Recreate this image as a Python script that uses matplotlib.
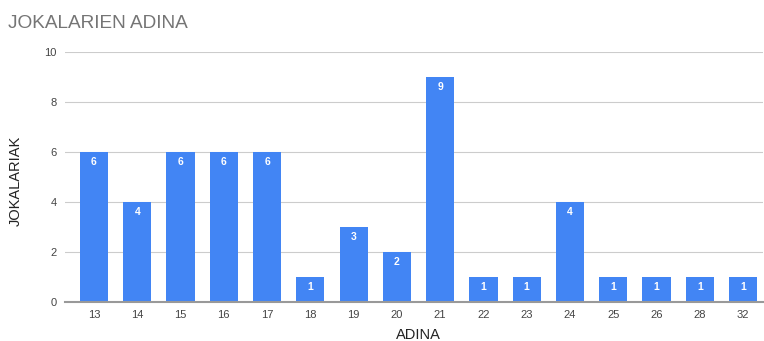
import matplotlib
matplotlib.use("Agg")
import matplotlib.pyplot as plt

plt.rcParams["font.family"] = ["Liberation Sans", "DejaVu Sans"]

ages = ["13", "14", "15", "16", "17", "18", "19", "20", "21", "22", "23", "24", "25", "26", "28", "32"]
players = [6, 4, 6, 6, 6, 1, 3, 2, 9, 1, 1, 4, 1, 1, 1, 1]
y_ticks = [0, 2, 4, 6, 8, 10]

W, H = 764, 341
fig = plt.figure(figsize=(W / 100, H / 100), dpi=100)
ax = fig.add_axes([65 / W, (H - 301.5) / H, (763 - 65) / W, 250 / H])

x = list(range(len(ages)))
ax.bar(x, players, width=0.65, color="#4285F4", zorder=3)
for xi, v in zip(x, players):
    ax.text(xi, v - 0.22, str(v), ha="center", va="top", color="white",
            fontsize=7.5, fontweight="bold", zorder=4)

ax.set_xlim(-0.67, 15.46)
ax.set_ylim(0, 10)
ax.set_yticks(y_ticks)
ax.set_xticks(x)
ax.set_xticklabels(ages)
ax.tick_params(axis="both", length=0, labelsize=8, labelcolor="#444444")
ax.tick_params(axis="y", pad=6)
ax.tick_params(axis="x", pad=6)
ax.grid(axis="y", color="#cccccc", linewidth=0.8, zorder=0)
for s in ["top", "right", "left"]:
    ax.spines[s].set_visible(False)
ax.spines["bottom"].set_color("#999999")
ax.spines["bottom"].set_linewidth(1.5)
ax.spines["bottom"].set_zorder(5)

fig.text(418 / W, 1 - 335 / H, "ADINA", fontsize=10.5, color="#222222",
         ha="center", va="center")
fig.text(16 / W, 1 - 181 / H, "JOKALARIAK", fontsize=10.5, color="#222222",
         ha="center", va="center", rotation=90)

fig.text(8 / W, 1 - 23 / H, "JOKALARIEN ADINA", fontsize=13.7, color="#757575",
         ha="left", va="center")

fig.savefig("out.png", dpi=100)
